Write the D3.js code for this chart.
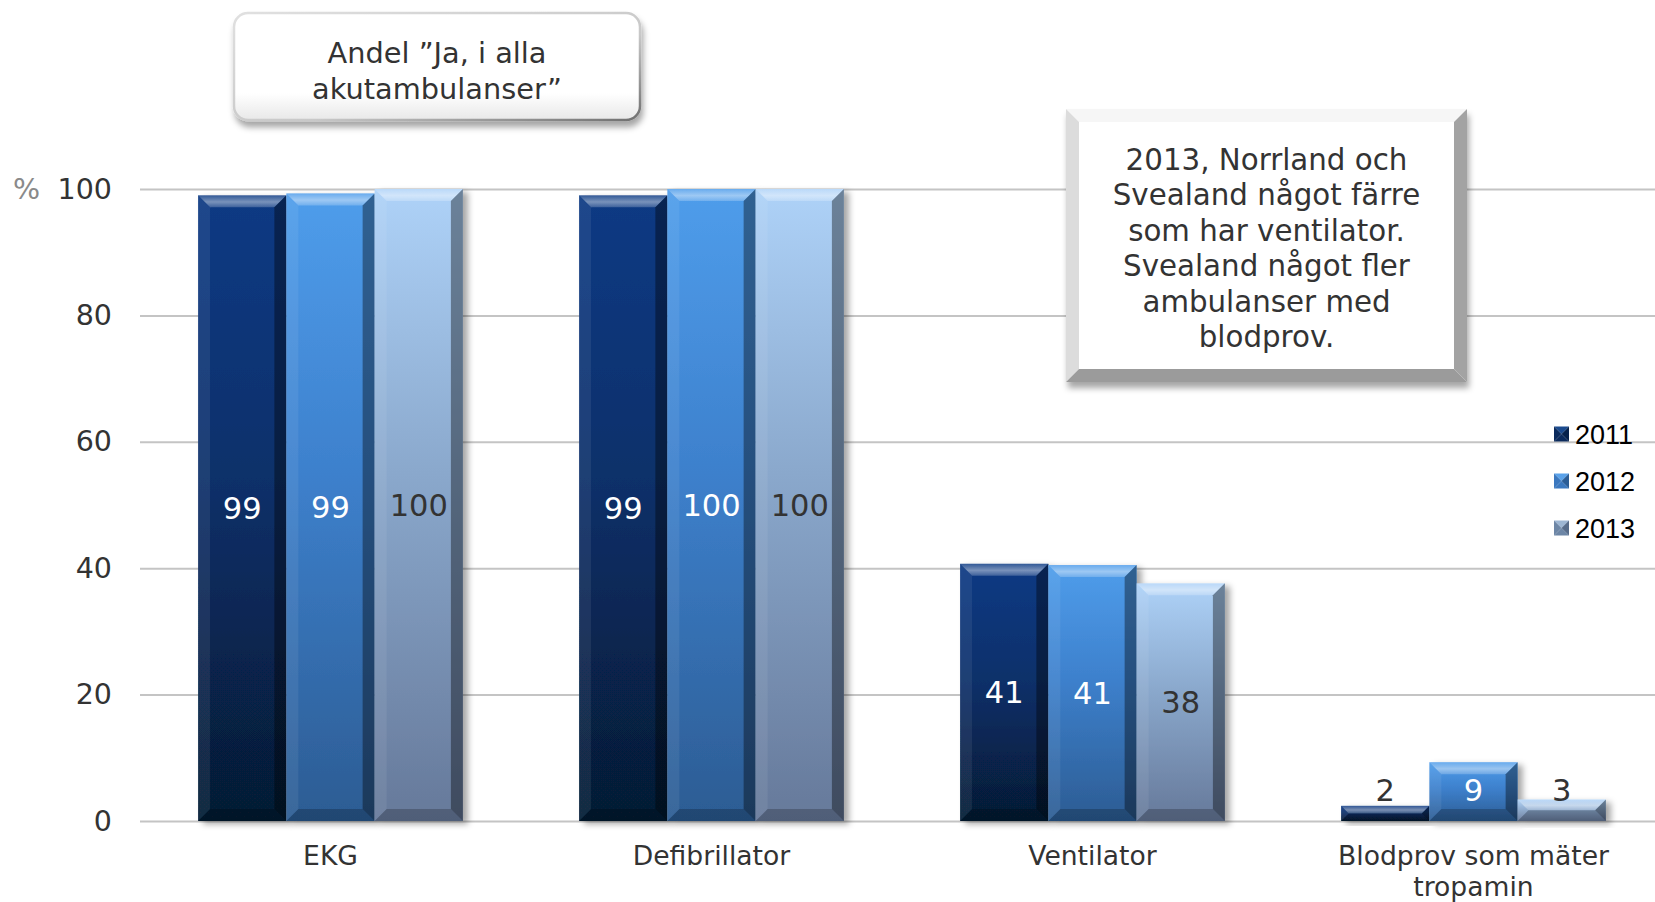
<!DOCTYPE html>
<html>
<head>
<meta charset="utf-8">
<script src="https://cdn.jsdelivr.net/npm/d3@7"></script>
<style>
  html, body { margin: 0; padding: 0; background: #fff; }
  svg { display: block; }
  text { font-family: "DejaVu Sans", Verdana, sans-serif; }
</style>
</head>
<body>
<div id="chart"></div>
<script>
// data
const categories = ['EKG', 'Defibrillator', 'Ventilator', 'Blodprov som mäter tropamin']
const years = ['2011', '2012', '2013']
const values2011 = [99.0, 99.0, 40.7, 2.4]
const values2012 = [99.3, 100, 40.5, 9.3]
const values2013 = [100, 100, 37.6, 3.4]
const yTicks = [0, 20, 40, 60, 80, 100]
const boxText = ['Andel ”Ja, i alla', 'akutambulanser”']
const noteText = ['2013, Norrland och', 'Svealand något färre', 'som har ventilator.',
  'Svealand något fler', 'ambulanser med', 'blodprov.']

const series = [values2011, values2012, values2013]

const W = 1655, H = 902
const svg = d3.select('#chart').append('svg').attr('width', W).attr('height', H)
const defs = svg.append('defs')

// gradients for the bars (top -> bottom)
const grads = [
  ['#0a3a84', '#08306a', '#061a33'],
  ['#4f9deb', '#3d80cc', '#2c5c93'],
  ['#aed2f8', '#8aa8cc', '#66799a']
]
grads.forEach(function (c, i) {
  let g = defs.append('linearGradient').attr('id', 'g' + i)
    .attr('x1', 0).attr('y1', 0).attr('x2', 0).attr('y2', 1)
  g.append('stop').attr('offset', '0%').attr('stop-color', c[0])
  g.append('stop').attr('offset', '45%').attr('stop-color', c[1])
  g.append('stop').attr('offset', '100%').attr('stop-color', c[2])
})

// light band on the top bevel
let tb = defs.append('linearGradient').attr('id', 'topbevel')
  .attr('x1', 0).attr('y1', 0).attr('x2', 0).attr('y2', 1)
tb.append('stop').attr('offset', '0%').attr('stop-color', '#fff').attr('stop-opacity', 0.15)
tb.append('stop').attr('offset', '55%').attr('stop-color', '#fff').attr('stop-opacity', 0.45)
tb.append('stop').attr('offset', '100%').attr('stop-color', '#fff').attr('stop-opacity', 0.2)

let sh = defs.append('filter').attr('id', 'shadow')
  .attr('x', '-20%').attr('y', '-20%').attr('width', '150%').attr('height', '150%')
sh.append('feDropShadow').attr('dx', 5).attr('dy', 3).attr('stdDeviation', 3)
  .attr('flood-color', '#000').attr('flood-opacity', 0.35)

let sh2 = defs.append('filter').attr('id', 'boxshadow')
  .attr('x', '-20%').attr('y', '-20%').attr('width', '150%').attr('height', '160%')
sh2.append('feDropShadow').attr('dx', 2).attr('dy', 6).attr('stdDeviation', 3)
  .attr('flood-color', '#000').attr('flood-opacity', 0.35)

let bg = defs.append('linearGradient').attr('id', 'boxfill')
  .attr('x1', 0).attr('y1', 0).attr('x2', 0).attr('y2', 1)
bg.append('stop').attr('offset', '0%').attr('stop-color', '#ffffff')
bg.append('stop').attr('offset', '75%').attr('stop-color', '#ffffff')
bg.append('stop').attr('offset', '100%').attr('stop-color', '#e8e8e8')

let bs = defs.append('linearGradient').attr('id', 'boxstroke')
  .attr('x1', 0).attr('y1', 0).attr('x2', 1).attr('y2', 1)
bs.append('stop').attr('offset', '0%').attr('stop-color', '#e0e0e0')
bs.append('stop').attr('offset', '60%').attr('stop-color', '#c8c8c8')
bs.append('stop').attr('offset', '100%').attr('stop-color', '#707070')

// scales
const x = d3.scaleBand().domain(categories).range([140, 1664])
  .paddingInner(0.305).paddingOuter(0.1525)
const x1 = d3.scaleBand().domain(years).range([0, x.bandwidth()])
const y = d3.scaleLinear().domain([0, 100]).range([821, 189])

// y axis with gridlines
const yAxis = svg.append('g')
  .attr('transform', 'translate(140,0)')
  .call(d3.axisLeft(y).tickValues(yTicks).tickSize(-(W - 140)).tickPadding(28))
yAxis.select('.domain').remove()
yAxis.selectAll('.tick line').attr('stroke', '#c4c4c4').attr('stroke-width', 2)
yAxis.selectAll('.tick text').attr('fill', '#333').style('font-size', '28.5px')
  .style('font-family', '"DejaVu Sans", Verdana, sans-serif')

svg.append('text').attr('x', 13).attr('y', y(100)).attr('dy', '0.34em')
  .attr('fill', '#8a8a8a').style('font-size', '28.5px').text('%')

// x axis labels
const xAxis = svg.append('g')
  .attr('transform', 'translate(0,' + y(0) + ')')
  .call(d3.axisBottom(x).tickSize(0).tickPadding(25))
xAxis.select('.domain').remove()
xAxis.selectAll('.tick text').attr('fill', '#333').style('font-size', '26.6px')
  .style('font-family', '"DejaVu Sans", Verdana, sans-serif')
  .each(function (d) {
    // wrap long labels onto two lines
    let t = d3.select(this)
    let words = d.split(' ')
    if (words.length < 3) return
    t.text(null)
    t.append('tspan').attr('x', 0).text(words.slice(0, 3).join(' '))
    t.append('tspan').attr('x', 0).attr('dy', 31).text(words.slice(3).join(' '))
  })

// bars
const groups = svg.selectAll('g.cat').data(categories).enter().append('g')
  .attr('class', 'cat')
  .attr('transform', function (d) { return 'translate(' + x(d) + ',0)' })

const barData = function (c, ci) {
  return years.map(function (yr, si) {
    return { year: yr, s: si, value: series[si][ci] }
  })
}

const bars = groups.selectAll('g.bar')
  .data(function (c, ci) { return barData(c, ci) })
  .enter().append('g').attr('class', 'bar')

bars.each(function (d) {
  let g = d3.select(this)
  let bx = x1(d.year), bw = x1.bandwidth()
  let by = y(d.value), bh = y(0) - y(d.value)
  let b = Math.min(12, bh / 2)
  g.append('rect').attr('x', bx).attr('y', by).attr('width', bw).attr('height', bh)
    .attr('fill', 'url(#g' + d.s + ')').attr('filter', 'url(#shadow)')
  let p = function (pts, fill, op) {
    g.append('polygon').attr('points', pts.map(function (q) { return q.join(',') }).join(' '))
      .attr('fill', fill).attr('fill-opacity', op)
  }
  p([[bx, by], [bx + bw, by], [bx + bw - b, by + b], [bx + b, by + b]], 'url(#topbevel)', 1)
  p([[bx, by], [bx + b, by + b], [bx + b, by + bh - b], [bx, by + bh]], '#fff', 0.07)
  p([[bx + bw, by], [bx + bw - b, by + b], [bx + bw - b, by + bh - b], [bx + bw, by + bh]], '#000', 0.38)
  p([[bx, by + bh], [bx + bw, by + bh], [bx + bw - b, by + bh - b], [bx + b, by + bh - b]], '#000', 0.22)
})

// value labels
bars.append('text')
  .attr('x', function (d) { return x1(d.year) + x1.bandwidth() / 2 })
  .attr('y', function (d) {
    let mid = (y(d.value) + y(0)) / 2
    return Math.min(mid, y(0) - 31)
  })
  .attr('dy', '0.36em')
  .attr('text-anchor', 'middle')
  .style('font-size', '30.5px')
  .attr('fill', function (d) {
    let h = y(0) - y(d.value)
    return (d.s === 2 || h < 40) ? '#333' : '#fff'
  })
  .text(function (d) { return Math.round(d.value) })

// legend
const lcolors = [['#1b4a8e', '#0b2a5c', '#06214a'], ['#5aa2ea', '#3b78bf', '#2b5d96'], ['#9db6d3', '#6d86a6', '#576c8a']]
const legend = svg.append('g').attr('transform', 'translate(1554,0)')
years.forEach(function (yr, i) {
  let cy = 434 + i * 47
  let s = 15, lx = 0, ly = cy - s / 2
  let g = legend.append('g')
  let c = lcolors[i]
  let tri = function (pts, fill) {
    g.append('polygon').attr('points', pts.map(function (q) { return q.join(',') }).join(' ')).attr('fill', fill)
  }
  let cx0 = lx + s / 2, cy0 = ly + s / 2
  tri([[lx, ly], [lx + s, ly], [cx0, cy0]], c[0])
  tri([[lx, ly], [lx, ly + s], [cx0, cy0]], c[1])
  tri([[lx, ly + s], [lx + s, ly + s], [cx0, cy0]], c[1])
  tri([[lx + s, ly], [lx + s, ly + s], [cx0, cy0]], c[2])
  g.append('text').attr('x', 21).attr('y', cy).attr('dy', '0.36em')
    .style('font-family', '"Liberation Sans", Arial, sans-serif')
    .style('font-size', '27px').attr('fill', '#000').text(yr)
})

// top-left rounded box
const box = svg.append('g')
box.append('rect').attr('x', 234).attr('y', 13).attr('width', 406).attr('height', 107)
  .attr('rx', 14).attr('fill', 'url(#boxfill)').attr('stroke', 'url(#boxstroke)').attr('stroke-width', 2.5)
  .attr('filter', 'url(#boxshadow)')
box.selectAll('text').data(boxText).enter().append('text')
  .attr('x', 437).attr('y', function (d, i) { return 63 + i * 36 })
  .attr('text-anchor', 'middle').attr('fill', '#333').style('font-size', '28.8px')
  .text(function (d) { return d })

// bevelled note box
const nx = 1066, ny = 109, nw = 401, nh = 273, bv = 13
const note = svg.append('g')
note.append('rect').attr('x', nx).attr('y', ny).attr('width', nw).attr('height', nh)
  .attr('fill', '#fff').attr('filter', 'url(#boxshadow)')
let np = function (pts, fill) {
  note.append('polygon').attr('points', pts.map(function (q) { return q.join(',') }).join(' ')).attr('fill', fill)
}
np([[nx, ny], [nx + nw, ny], [nx + nw - bv, ny + bv], [nx + bv, ny + bv]], '#f6f6f6')
np([[nx, ny], [nx + bv, ny + bv], [nx + bv, ny + nh - bv], [nx, ny + nh]], '#dcdcdc')
np([[nx + nw, ny], [nx + nw - bv, ny + bv], [nx + nw - bv, ny + nh - bv], [nx + nw, ny + nh]], '#a3a3a3')
np([[nx, ny + nh], [nx + nw, ny + nh], [nx + nw - bv, ny + nh - bv], [nx + bv, ny + nh - bv]], '#9b9b9b')
note.selectAll('text').data(noteText).enter().append('text')
  .attr('x', nx + nw / 2).attr('y', function (d, i) { return 170 + i * 35.4 })
  .attr('text-anchor', 'middle').attr('fill', '#333').style('font-size', '29.3px')
  .text(function (d) { return d })
</script>
</body>
</html>
